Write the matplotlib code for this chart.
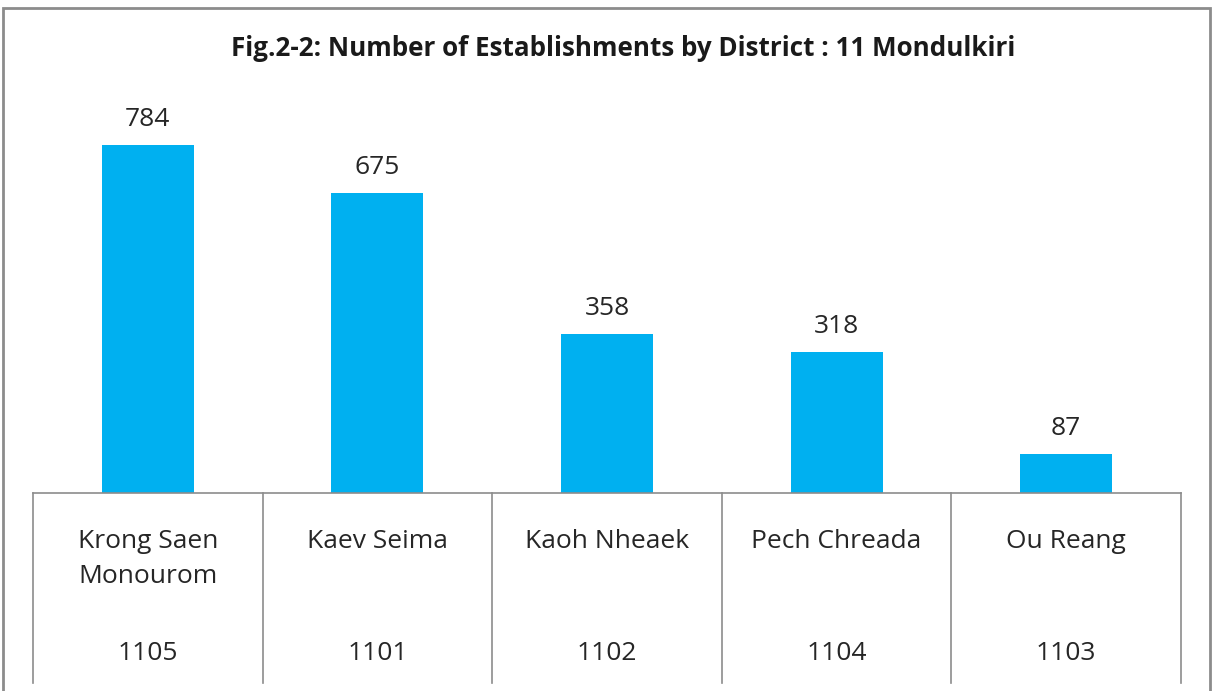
import matplotlib
matplotlib.use('Agg')
from matplotlib import pyplot as plt
from matplotlib.patches import Rectangle

districts = ['Krong Saen\nMonourom', 'Kaev Seima', 'Kaoh Nheaek', 'Pech Chreada', 'Ou Reang']
codes = ['1105', '1101', '1102', '1104', '1103']
counts = [784, 675, 358, 318, 87]

title = 'Fig.2-2: Number of Establishments by District : 11 Mondulkiri'
barColor = '#00B0F0'
lineColor = '#8C8C8C'

plt.rcParams['font.family'] = ['Open Sans', 'DejaVu Sans']

W, H = 1213, 691
fig = plt.figure(figsize=(W / 100, H / 100), dpi=100)

# plot area in pixels: x 33..1181, y 60..493
axL, axR, axT, axB = 33, 1181, 60, 493
ax = fig.add_axes([axL / W, (H - axB) / H, (axR - axL) / W, (axB - axT) / H])

x = list(range(len(counts)))
ax.bar(x, counts, width=0.4, color=barColor)
ax.set_xlim(-0.5, len(counts) - 0.5)
ax.set_ylim(0, (axB - axT) / 0.4439)

for i, v in zip(x, counts):
	ax.annotate(str(v), (i, v), xytext=(0, 13), textcoords='offset pixels',
		ha='center', va='bottom', fontsize=19, color='#262626')

for s in ['top', 'left', 'right']:
	ax.spines[s].set_visible(False)
ax.spines['bottom'].set_color(lineColor)
ax.spines['bottom'].set_linewidth(1.2)
ax.set_xticks([])
ax.set_yticks([])

# table below the axis
tr = ax.get_xaxis_transform()
pxToAx = 1.0 / (axB - axT)
bottomY = -(683 - axB) * pxToAx
for b in [i - 0.5 for i in range(len(counts) + 1)]:
	ax.plot([b, b], [0, bottomY], color=lineColor, lw=1.2, transform=tr, clip_on=False)

for i in x:
	ax.text(i, -(529 - axB) * pxToAx, districts[i], transform=tr, ha='center', va='top',
		fontsize=19, color='#262626', linespacing=1.55)
	ax.text(i, -(654 - axB) * pxToAx, codes[i], transform=tr, ha='center', va='center',
		fontsize=19, color='#262626')

fig.text(623 / W, 1 - 48 / H, title, ha='center', va='center', fontsize=18.7,
	fontweight='bold', color='#1a1a1a')

# outer chart border
fig.patches.append(Rectangle((3 / W, -0.05), (1210 - 3) / W, 1.05 - 8 / H,
	transform=fig.transFigure, fill=False, edgecolor=lineColor, lw=2))

fig.savefig('out.png', dpi=100)
